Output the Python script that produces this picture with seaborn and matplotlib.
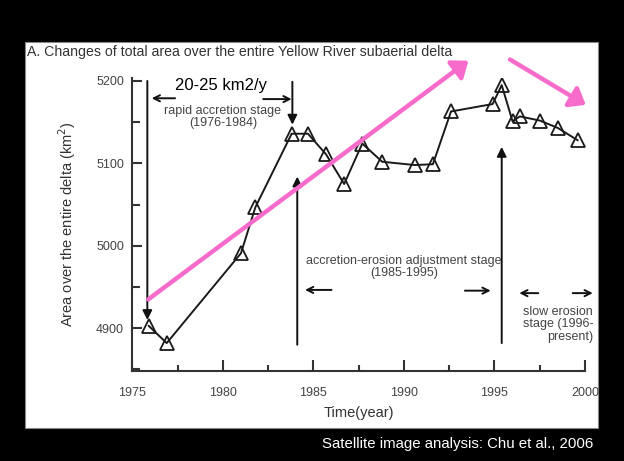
import matplotlib
matplotlib.use("Agg")
import matplotlib.pyplot as plt
from matplotlib.patches import Rectangle
from matplotlib.ticker import MultipleLocator
import seaborn as sns
import pandas as pd

# ---- data ----
years = [1975.9, 1976.9, 1981.0, 1981.8, 1983.8, 1984.7, 1985.7, 1986.7, 1987.7, 1988.8,
         1990.6, 1991.6, 1992.6, 1994.9, 1995.4, 1996.0, 1996.4, 1997.5, 1998.5, 1999.6]
area = [4903, 4882, 4991, 5047, 5136, 5136, 5111, 5075, 5124, 5102,
        5098, 5099, 5163, 5172, 5195, 5151, 5157, 5152, 5143, 5128]
x_ticks = [1975, 1980, 1985, 1990, 1995, 2000]
y_ticks = [4900, 5000, 5100, 5200]

title = "A. Changes of total area over the entire Yellow River subaerial delta"
ylabel = "Area over the entire delta (km$^2$)"
xlabel = "Time(year)"
rate_text = "20-25 km2/y"
stage1 = "rapid accretion stage\n(1976-1984)"
stage2 = "accretion-erosion adjustment stage\n(1985-1995)"
stage3 = "slow erosion\nstage (1996-\npresent)"
footer = "Satellite image analysis: Chu et al., 2006"

df = pd.DataFrame({"year": years, "area": area})

sns.set_theme(style="ticks")
plt.rcParams["font.family"] = ["Liberation Sans", "DejaVu Sans"]

fig = plt.figure(figsize=(6.24, 4.61), dpi=100)
fig.patch.set_facecolor("black")

# white panel
panel = Rectangle((25 / 624, 1 - 428 / 461), (598 - 25) / 624, (428 - 41.7) / 461,
                  transform=fig.transFigure, facecolor="white", edgecolor="#888888",
                  lw=0.8, zorder=-10)
fig.patches.append(panel)

ax = fig.add_axes([132.3 / 624, 1 - 370.7 / 461, (585 - 132.3) / 624, (370.7 - 78) / 461])
ax.set_zorder(5)
ax.set_facecolor("none")

sns.lineplot(data=df, x="year", y="area", ax=ax, color="#1a1a1a", lw=1.4,
             marker="^", markersize=9.5, markerfacecolor="none",
             markeredgecolor="#1a1a1a", markeredgewidth=1.3)

ax.set_xlim(1975, 2000)
ax.set_ylim(4848.5, 5203.6)
ax.set_xticks(x_ticks)
ax.set_yticks(y_ticks)
ax.xaxis.set_minor_locator(MultipleLocator(2.5))
ax.yaxis.set_minor_locator(MultipleLocator(50))

for s in ["top", "right"]:
    ax.spines[s].set_visible(False)
for s in ["left", "bottom"]:
    ax.spines[s].set_color("#333333")
    ax.spines[s].set_linewidth(1.5)

ax.tick_params(axis="both", which="both", direction="in", color="#333333",
               labelcolor="#444444", labelsize=9, width=1.5)
ax.tick_params(axis="x", which="major", length=8, pad=12)
ax.tick_params(axis="x", which="minor", length=4.5)
ax.tick_params(axis="y", which="major", length=7.5, pad=6)
ax.tick_params(axis="y", which="minor", length=6)

ax.set_xlabel(xlabel, fontsize=10.5, color="#333333")
ax.set_ylabel(ylabel, fontsize=10.5, color="#333333")
ax.xaxis.set_label_coords(0.5, -0.12)
ax.yaxis.set_label_coords(-0.12, 0.5)

fig.text(27 / 624, 1 - 52.3 / 461, title, fontsize=10.2, color="#333333",
         ha="left", va="center")

# black stage arrows
def arrow(x0, y0, x1, y1, style="-|>", ms=14):
    ax.annotate("", xy=(x1, y1), xytext=(x0, y0),
                arrowprops=dict(arrowstyle=style, color="#111111", lw=1.4,
                                mutation_scale=ms, shrinkA=0, shrinkB=0),
                annotation_clip=False)

arrow(1975.83, 5200, 1975.83, 4910)
arrow(1983.84, 5199, 1983.84, 5147)
arrow(1984.11, 4880, 1984.11, 5084)
arrow(1995.4, 4882, 1995.4, 5120)
arrow(1977.36, 5179, 1976.07, 5179, style="->", ms=11)
arrow(1982.23, 5178, 1983.8, 5178, style="->", ms=11)
arrow(1986.0, 4946.5, 1984.54, 4946.5, style="->", ms=11)
arrow(1993.37, 4945.6, 1994.79, 4945.6, style="->", ms=11)
arrow(1997.42, 4942.6, 1996.37, 4942.6, style="->", ms=11)
arrow(1999.32, 4942.6, 2000.43, 4942.6, style="->", ms=11)

# pink trend arrows
pink = "#F76BCB"
for (x0, y0, x1, y1) in [(1975.88, 4935, 1993.56, 5224.6), (1995.86, 5226, 2000.04, 5171)]:
    ax.annotate("", xy=(x1, y1), xytext=(x0, y0),
                arrowprops=dict(arrowstyle="-|>,head_length=0.45,head_width=0.35",
                                color=pink, lw=3.2, mutation_scale=20,
                                shrinkA=0, shrinkB=0),
                annotation_clip=False, zorder=5)

ax.text(1979.9, 5195, rate_text, fontsize=12, color="black", ha="center", va="center")
ax.text(1980.0, 5156, stage1, fontsize=9, color="#444444", ha="center", va="center",
        linespacing=1.05)
ax.text(1990.0, 4974, stage2, fontsize=9, color="#444444", ha="center", va="center",
        linespacing=1.05)
ax.text(2000.45, 4905, stage3, fontsize=9, color="#444444", ha="right", va="center",
        linespacing=1.05)

fig.text(593 / 624, 1 - 444 / 461, footer, fontsize=10.8, color="white",
         ha="right", va="center")

fig.savefig("out.png", dpi=100, facecolor=fig.get_facecolor())
